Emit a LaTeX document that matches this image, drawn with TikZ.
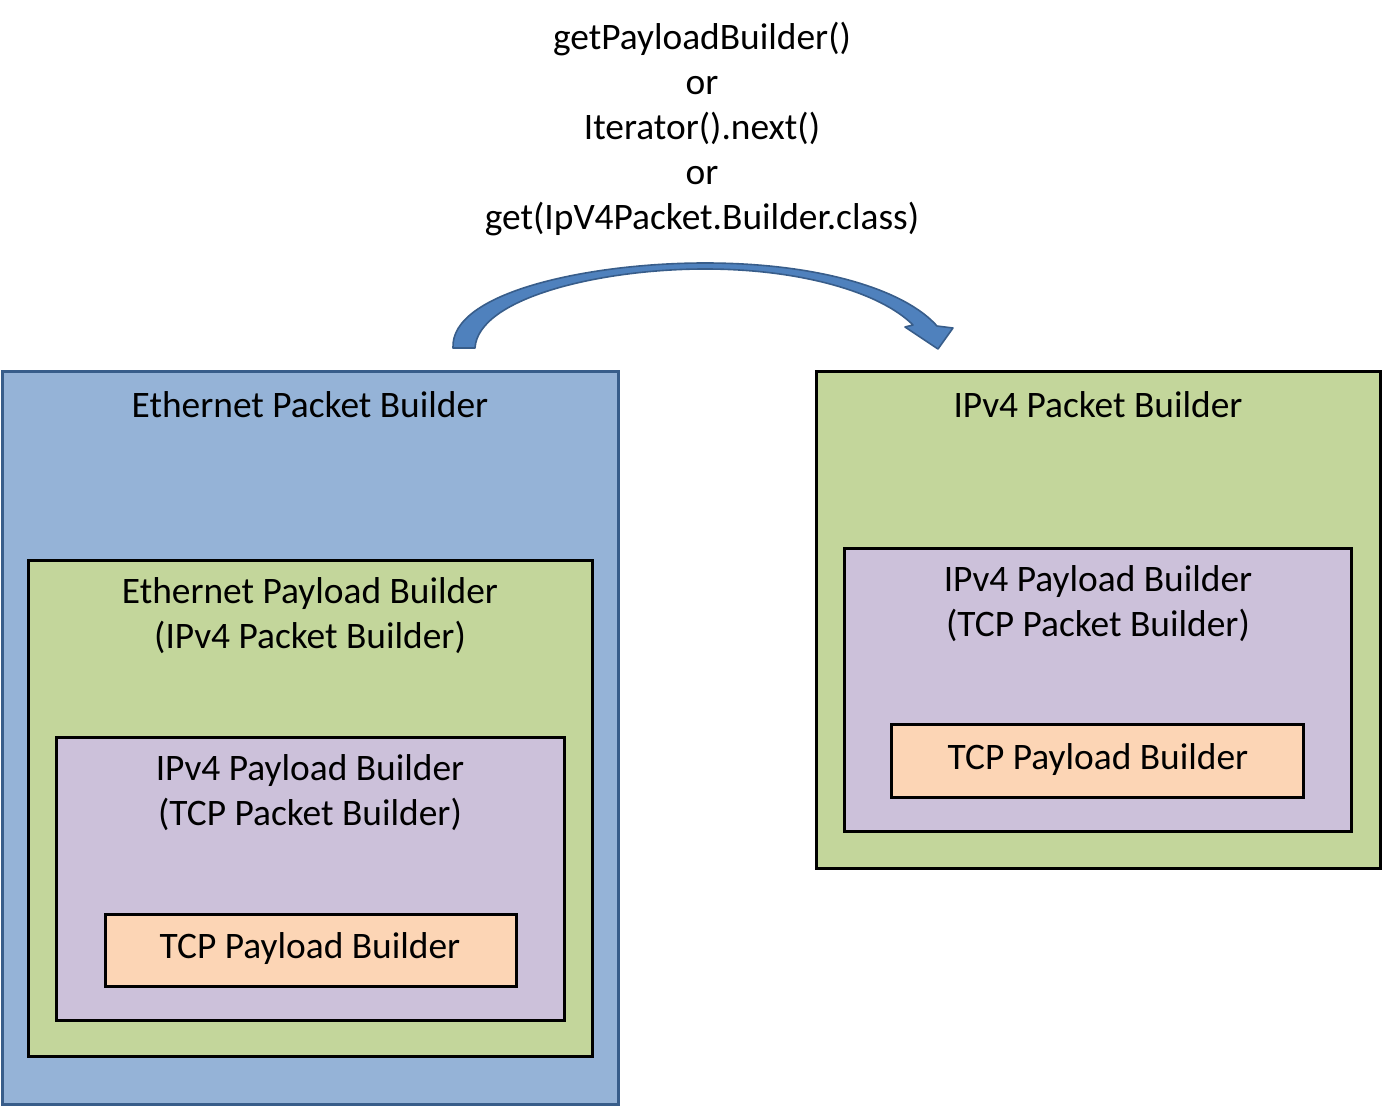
\documentclass[tikz,border=0pt]{standalone}
\usepackage{fontspec}
\setmainfont{Carlito}
\definecolor{ethblue}{HTML}{95B3D7}
\definecolor{ethedge}{HTML}{385D8A}
\definecolor{ipgreen}{HTML}{C3D69B}
\definecolor{tcppurple}{HTML}{CCC1DA}
\definecolor{payorange}{HTML}{FCD5B5}
\definecolor{arrowblue}{HTML}{4F81BD}
\tikzset{
  box/.style={draw=black,line width=1.5pt},
  lbl/.style={font=\fontsize{18.7pt}{22.5pt}\selectfont,align=center,inner sep=0pt}
}
\begin{document}
\begin{tikzpicture}[x=0.5pt,y=-0.5pt]
    \useasboundingbox (0,0) rectangle (1382,1106);
    % left stack
    \filldraw[fill=ethblue,draw=ethedge,line width=1.5pt] (2,372) rectangle (618,1104);
    \filldraw[box,fill=ipgreen] (28,561) rectangle (592,1056);
    \filldraw[box,fill=tcppurple] (56,738) rectangle (564,1020);
    \filldraw[box,fill=payorange] (105,914) rectangle (516,986);
    \node[lbl] (ethpkt) at (310,405) {Ethernet Packet Builder};
    \node[lbl] (ethpay) at (310,616) {Ethernet Payload Builder\\(IPv4 Packet Builder)};
    \node[lbl] (ippayL) at (310,793) {IPv4 Payload Builder\\(TCP Packet Builder)};
    \node[lbl] (tcppayL) at (310,949) {TCP Payload Builder};
    % right stack
    \filldraw[box,fill=ipgreen] (816,372) rectangle (1380,868);
    \filldraw[box,fill=tcppurple] (844,549) rectangle (1351,831);
    \filldraw[box,fill=payorange] (891,725) rectangle (1303,797);
    \node[lbl] (ippkt) at (1098,405) {IPv4 Packet Builder};
    \node[lbl] (ippayR) at (1098,604) {IPv4 Payload Builder\\(TCP Packet Builder)};
    \node[lbl] (tcppayR) at (1098,760) {TCP Payload Builder};
    % call
    \node[lbl] (calls) at (702,129) {getPayloadBuilder()\\or\\Iterator().next()\\or\\get(IpV4Packet.Builder.class)};
    \filldraw[fill=arrowblue,draw=ethedge,line width=0.8pt,line join=round]
      (453,348) .. controls (450,292) and (590,263) .. (705,263)
      .. controls (820,263) and (905,290) .. (937,326)
      -- (953,328) -- (938,349) -- (905,327) -- (913,325)
      .. controls (880,292) and (800,269) .. (705,269)
      .. controls (600,269) and (478,298) .. (475,348) -- cycle;
\end{tikzpicture}
\end{document}
